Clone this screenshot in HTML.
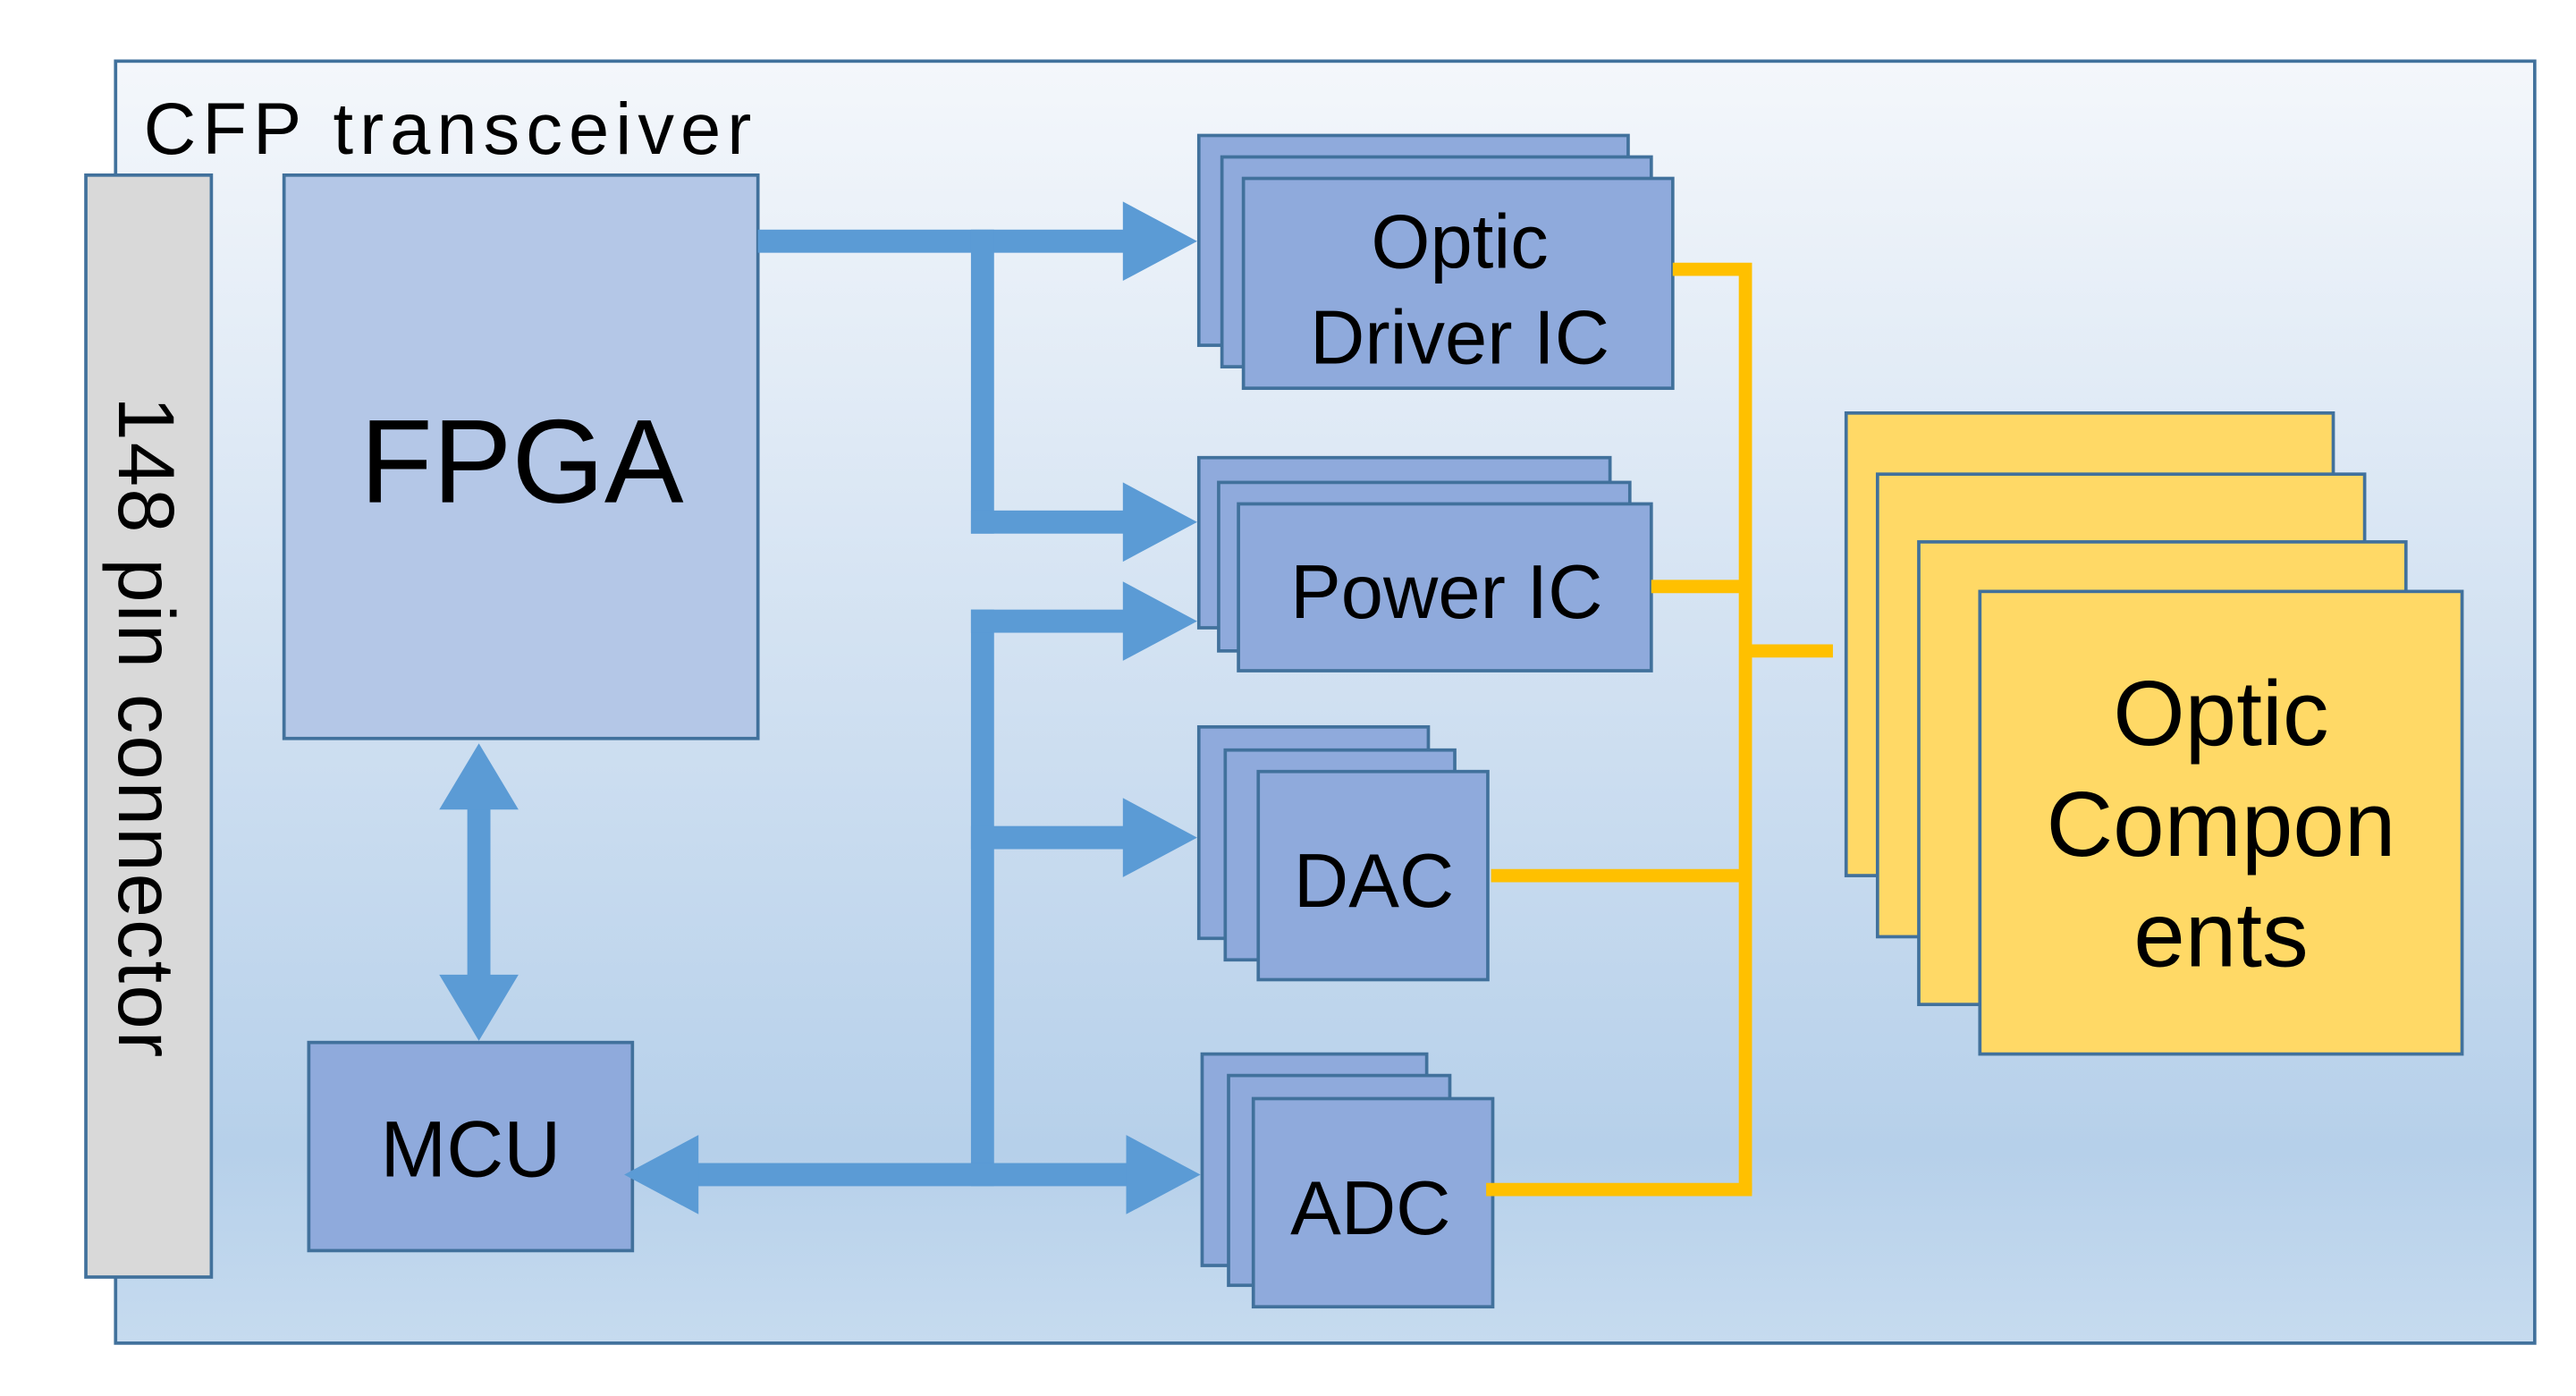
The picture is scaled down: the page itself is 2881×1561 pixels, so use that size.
<!DOCTYPE html>
<html><head><meta charset="utf-8"><style>
html,body{margin:0;padding:0;background:#fff;}
svg{display:block;}
text{font-family:"Liberation Sans","Noto Sans CJK KR",sans-serif;fill:#000;}
</style></head><body>
<svg width="2881" height="1561" viewBox="0 0 1560 845" preserveAspectRatio="none" xmlns="http://www.w3.org/2000/svg">
<defs>
<linearGradient id="bg" x1="0" y1="0" x2="0" y2="1">
<stop offset="0" stop-color="#f4f7fb"/>
<stop offset="0.45" stop-color="#d3e2f2"/>
<stop offset="0.85" stop-color="#b6d0ea"/>
<stop offset="1" stop-color="#c6dbef"/>
</linearGradient>
</defs>
<rect x="70" y="37" width="1465" height="776" fill="url(#bg)" stroke="#41719c" stroke-width="2"/>
<text x="87" y="93" font-size="44" textLength="368" lengthAdjust="spacing">CFP transceiver</text>
<rect x="52" y="106" width="76" height="667" fill="#d9d9d9" stroke="#41719c" stroke-width="2"/>
<text transform="translate(72,240) rotate(90)" font-size="48" textLength="400" lengthAdjust="spacing">148 pin connector</text>

<rect x="172" y="106" width="287" height="341" fill="#b4c7e7" stroke="#41719c" stroke-width="2"/>
<text x="316" y="304" font-size="72" text-anchor="middle">FPGA</text>
<rect x="187" y="631" width="196" height="126" fill="#8faadc" stroke="#41719c" stroke-width="2"/>
<text x="285" y="712" font-size="48" text-anchor="middle">MCU</text>

<g fill="#5b9bd5">
<rect x="283" y="488" width="14" height="106"/>
<polygon points="290,450 314,490 266,490"/>
<polygon points="290,630 314,590 266,590"/>
<rect x="459" y="139" width="225" height="14"/>
<polygon points="725,146 680,122 680,170"/>
<rect x="588" y="139" width="14" height="184"/>
<rect x="588" y="309" width="96" height="14"/>
<polygon points="725,316 680,292 680,340"/>
<rect x="588" y="369" width="14" height="349"/>
<rect x="588" y="369" width="96" height="14"/>
<polygon points="725,376 680,352 680,400"/>
<rect x="588" y="500" width="96" height="14"/>
<polygon points="725,507 680,483 680,531"/>
<rect x="418" y="704" width="266" height="14"/>
<polygon points="727,711 682,687 682,735"/>
<polygon points="378,711 423,687 423,735"/>
</g>

<g fill="#8faadc" stroke="#41719c" stroke-width="2">
<rect x="726" y="82" width="260" height="127"/>
<rect x="740" y="95" width="260" height="127"/>
<rect x="753" y="108" width="260" height="127"/>
<rect x="726" y="277" width="249" height="103"/>
<rect x="738" y="292" width="249" height="102"/>
<rect x="750" y="305" width="250" height="101"/>
<rect x="726" y="440" width="139" height="128"/>
<rect x="742" y="454" width="139" height="127"/>
<rect x="762" y="467" width="139" height="126"/>
<rect x="728" y="638" width="136" height="128"/>
<rect x="744" y="651" width="134" height="127"/>
<rect x="759" y="665" width="145" height="126"/>
</g>
<text x="884" y="162" font-size="46" text-anchor="middle">Optic</text>
<text x="884" y="220" font-size="46" text-anchor="middle">Driver IC</text>
<text x="876" y="374" font-size="46" text-anchor="middle">Power IC</text>
<text x="832" y="549" font-size="46" text-anchor="middle">DAC</text>
<text x="830" y="747" font-size="46" text-anchor="middle">ADC</text>

<g stroke="#ffc000" stroke-width="8" fill="none">
<polyline points="1013,163 1057,163 1057,722"/>
<line x1="1000" y1="355" x2="1057" y2="355"/>
<line x1="903" y1="530" x2="1057" y2="530"/>
<line x1="900" y1="720" x2="1061" y2="720"/>
<line x1="1057" y1="394" x2="1110" y2="394"/>
</g>

<g fill="#ffd966" stroke="#41719c" stroke-width="2">
<rect x="1118" y="250" width="295" height="280"/>
<rect x="1137" y="287" width="295" height="280"/>
<rect x="1162" y="328" width="295" height="280"/>
<rect x="1199" y="358" width="292" height="280"/>
</g>
<text x="1345" y="451" font-size="56" text-anchor="middle">Optic</text>
<text x="1345" y="518" font-size="56" text-anchor="middle">Compon</text>
<text x="1345" y="585" font-size="56" text-anchor="middle">ents</text>
</svg>
</body></html>
